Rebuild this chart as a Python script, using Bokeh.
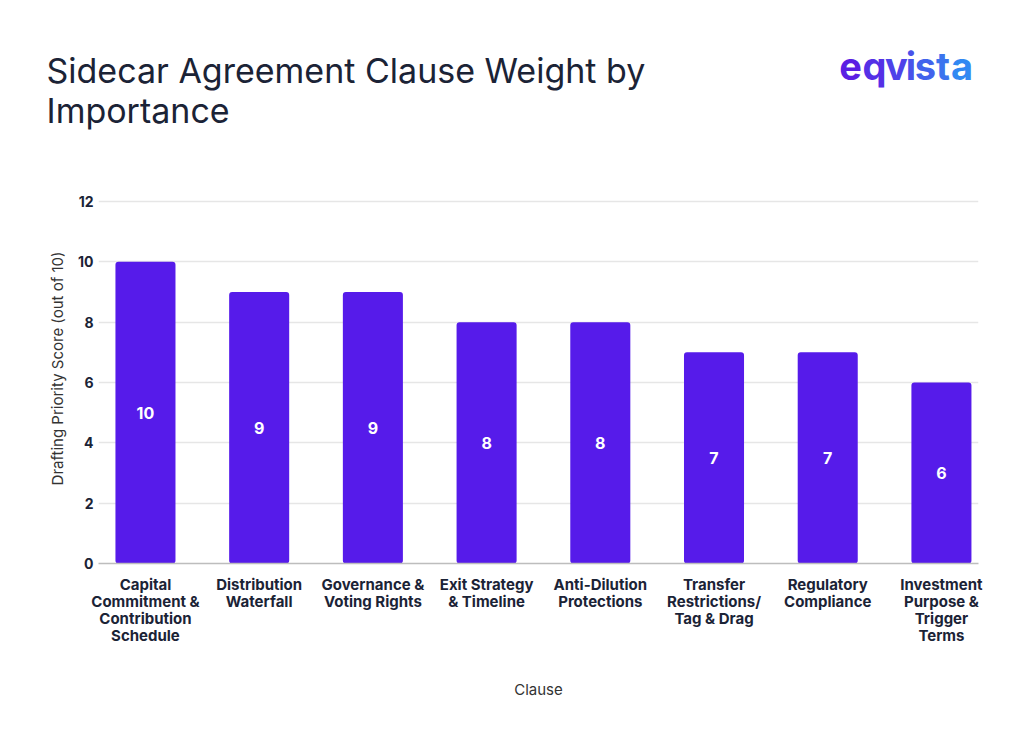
from bokeh.plotting import figure
from bokeh.layouts import column
from bokeh.models import ColumnDataSource, Range1d, FixedTicker
from bokeh.core.properties import value
from bokeh.embed import file_html
from bokeh.resources import INLINE

categories = [
    "Capital\nCommitment &\nContribution\nSchedule",
    "Distribution\nWaterfall",
    "Governance &\nVoting Rights",
    "Exit Strategy\n& Timeline",
    "Anti-Dilution\nProtections",
    "Transfer\nRestrictions/\nTag & Drag",
    "Regulatory\nCompliance",
    "Investment\nPurpose &\nTrigger\nTerms",
]
scores = [10, 9, 9, 8, 8, 7, 7, 6]
y_ticks = [0, 2, 4, 6, 8, 10, 12]
title_lines = ["Sidecar Agreement Clause Weight by", "Importance"]
logo_letters = list("eqvista")

BAR = "#561BEA"
DARK = "#1B2336"
FONT = "Inter"
W, H = 1024, 755
HEAD = 150

# ---------------- header (title + logo) ----------------
head = figure(width=W, height=HEAD, output_backend="svg", toolbar_location=None,
              x_range=Range1d(0, W), y_range=Range1d(HEAD, 0),
              x_axis_type=None, y_axis_type=None, min_border=0)
head.title = None
head.frame_align = False
head.outline_line_color = None
head.grid.visible = False
head.text(x=[46, 46], y=[70, 110], text=title_lines, text_font=value(FONT),
          text_font_size="34px", text_color=DARK, text_baseline="alphabetic",
          text_align="left")
logo_x = [850, 874, 896, 910.5, 925, 942.5, 961.5]
logo_col = ["#5B1FE3", "#5530E6", "#4E42E9", "#4852EA", "#4163EC", "#3B74EE", "#3288F2"]
head.text(x=logo_x, y=[65] * len(logo_letters), text=logo_letters,
          text_font=value(FONT), text_font_size="38px", text_font_style="bold",
          text_color=logo_col, text_baseline="alphabetic", text_align="center")

# ---------------- chart ----------------
FL, FR, FT, FB = 98, 978, 173 - HEAD, 563 - HEAD
CH = H - HEAD
X0, X1 = -0.413, 7.326
Y0, Y1 = 0, 12 * (563 - 173) / (563 - 201)

xs = list(range(len(categories)))
src = ColumnDataSource(dict(x=xs, top=scores, mid=[s / 2 for s in scores],
                            lab=[str(s) for s in scores]))

p = figure(width=W, height=CH, output_backend="svg", toolbar_location=None,
           x_range=Range1d(X0, X1), y_range=Range1d(Y0, Y1),
           min_border_left=FL, min_border_right=W - FR, min_border_top=FT,
           min_border_bottom=CH - FB)
p.frame_align = False
p.outline_line_color = None
p.background_fill_color = "white"
p.border_fill_color = "white"

p.vbar(x="x", top="top", width=0.528, source=src, fill_color=BAR,
       line_color=None, border_radius=3)
p.text(x="x", y="mid", text="lab", source=src, text_color="white",
       text_font=value(FONT), text_font_size="16px", text_font_style="bold",
       text_align="center", text_baseline="middle")

p.xaxis.ticker = FixedTicker(ticks=xs)
p.xaxis.major_label_overrides = {i: c for i, c in enumerate(categories)}
p.xaxis.major_label_text_font = FONT
p.xaxis.major_label_text_font_size = "15px"
p.xaxis.major_label_text_font_style = "bold"
p.xaxis.major_label_text_color = DARK
p.xaxis.major_label_text_line_height = 0.9
p.xaxis.major_label_standoff = 11
p.xaxis.major_tick_out = 0
p.xaxis.major_tick_in = 0
p.xaxis.major_tick_line_color = None
p.xaxis.minor_tick_line_color = None
p.xaxis.axis_line_color = "#BDBDBD"
p.xaxis.axis_line_width = 1.5
p.xaxis.axis_label = "Clause"
p.xaxis.axis_label_text_font = FONT
p.xaxis.axis_label_text_font_size = "15px"
p.xaxis.axis_label_text_font_style = "normal"
p.xaxis.axis_label_text_color = "#333333"
p.xaxis.axis_label_standoff = 32

p.yaxis.ticker = FixedTicker(ticks=y_ticks)
p.yaxis.major_label_text_font = FONT
p.yaxis.major_label_text_font_size = "14px"
p.yaxis.major_label_text_font_style = "bold"
p.yaxis.major_label_text_color = DARK
p.yaxis.major_label_standoff = 5
p.yaxis.major_tick_out = 0
p.yaxis.major_tick_in = 0
p.yaxis.major_tick_line_color = None
p.yaxis.minor_tick_line_color = None
p.yaxis.axis_line_color = None
p.yaxis.axis_label = "Drafting Priority Score (out of 10)"
p.yaxis.axis_label_text_font = FONT
p.yaxis.axis_label_text_font_size = "15px"
p.yaxis.axis_label_text_font_style = "normal"
p.yaxis.axis_label_text_color = "#333333"
p.yaxis.axis_label_standoff = 8

p.xgrid.grid_line_color = None
p.ygrid.grid_line_color = "#E6E6E6"
p.ygrid.grid_line_width = 1.5

layout = column(head, p, spacing=0)
open("out.html", "w").write(file_html(layout, INLINE))
